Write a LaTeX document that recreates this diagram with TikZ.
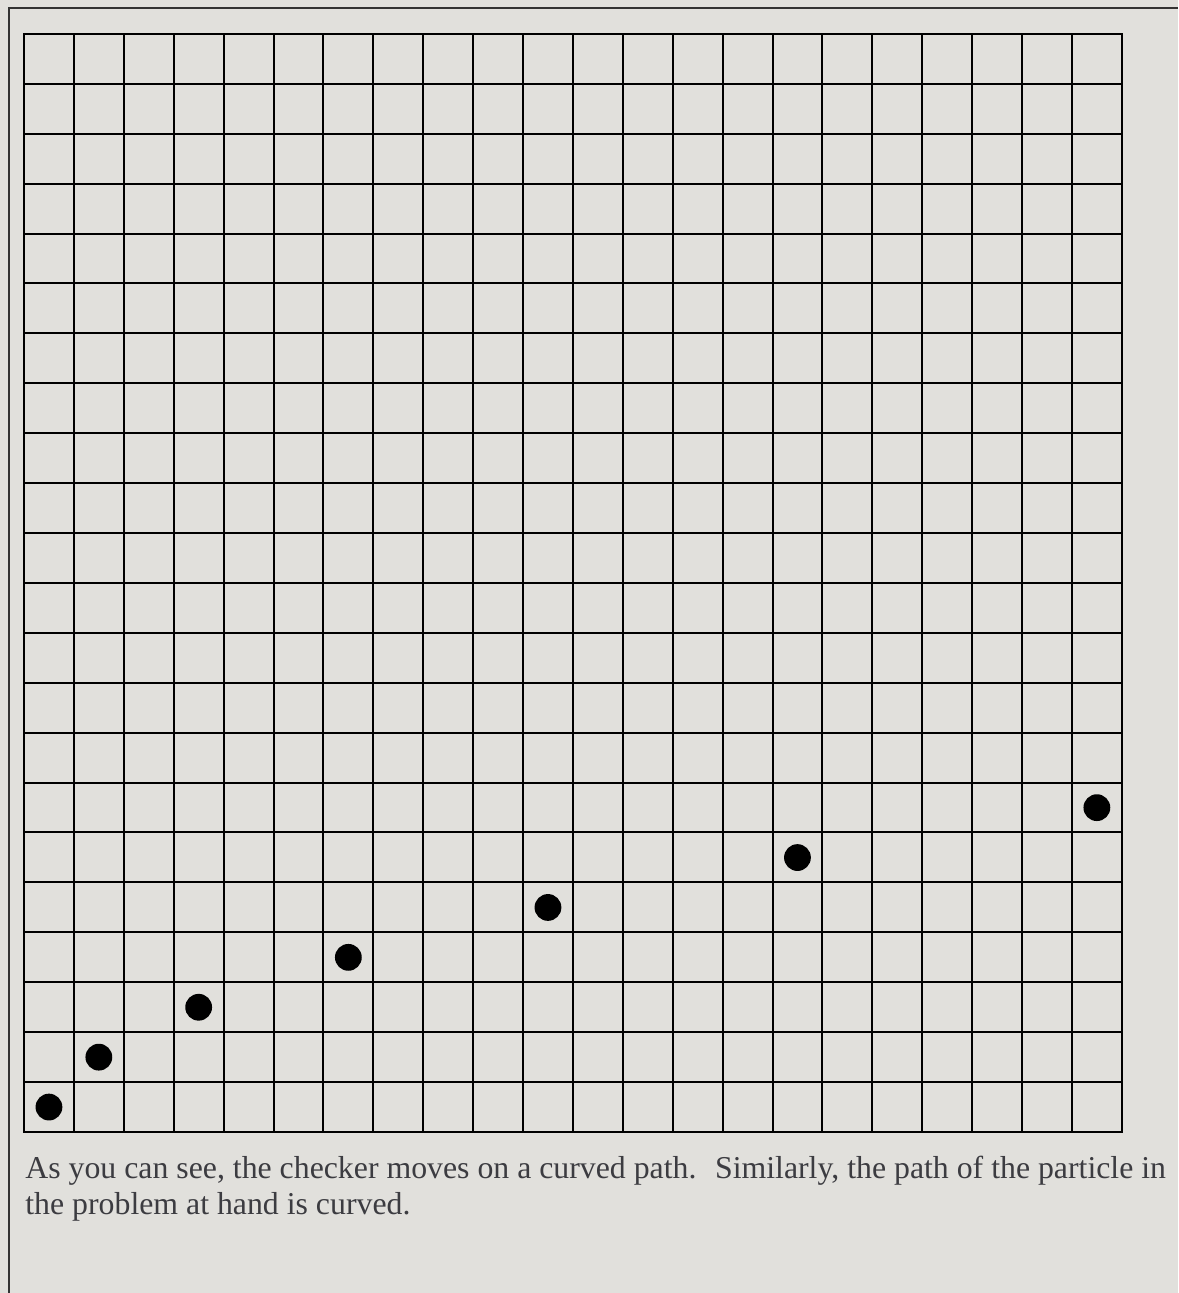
\documentclass[tikz,border=0pt]{standalone}
\usepackage{fontspec}
\setmainfont{Liberation Serif}
\definecolor{bg}{HTML}{E1E0DC}
\definecolor{framecol}{HTML}{333333}
\definecolor{txtcol}{HTML}{3C3C41}
\begin{document}
\begin{tikzpicture}[x=0.5pt,y=-0.5pt,
  gridline/.style={black,line width=1pt},
  checker/.style={circle,fill=black,inner sep=0pt,minimum size=13.4pt},
  caption/.style={text=txtcol,anchor=base west,align=left,inner sep=0pt,
    font=\fontsize{15.9pt}{18pt}\selectfont}]
\fill[bg] (0,0) rectangle (1178,1293);
\useasboundingbox (0,0) rectangle (1178,1293);
\draw[framecol,line width=1.1pt] (9,1293) -- (9,8) -- (1178,8);
\foreach \i in {1,...,21} {
  \draw[gridline] ({24+\i*49.9},34) -- ({24+\i*49.9},1132);
  \draw[gridline] (24,{34+\i*49.9}) -- (1122,{34+\i*49.9});
}
\draw[gridline] (24,34) rectangle (1122,1132);
\foreach \c/\r/\n in {0/0/c1,1/1/c2,3/2/c3,6/3/c4,10/4/c5,15/5/c6,21/6/c7} {
  \node[checker] (\n) at ({24+(\c+0.5)*49.9},{1132-(\r+0.5)*49.9}) {};
}
\node[caption] (text) at (25,1214) {As you can see, the checker moves on a curved path.~ Similarly, the path of the particle in\\the problem at hand is curved.};
\end{tikzpicture}
\end{document}
